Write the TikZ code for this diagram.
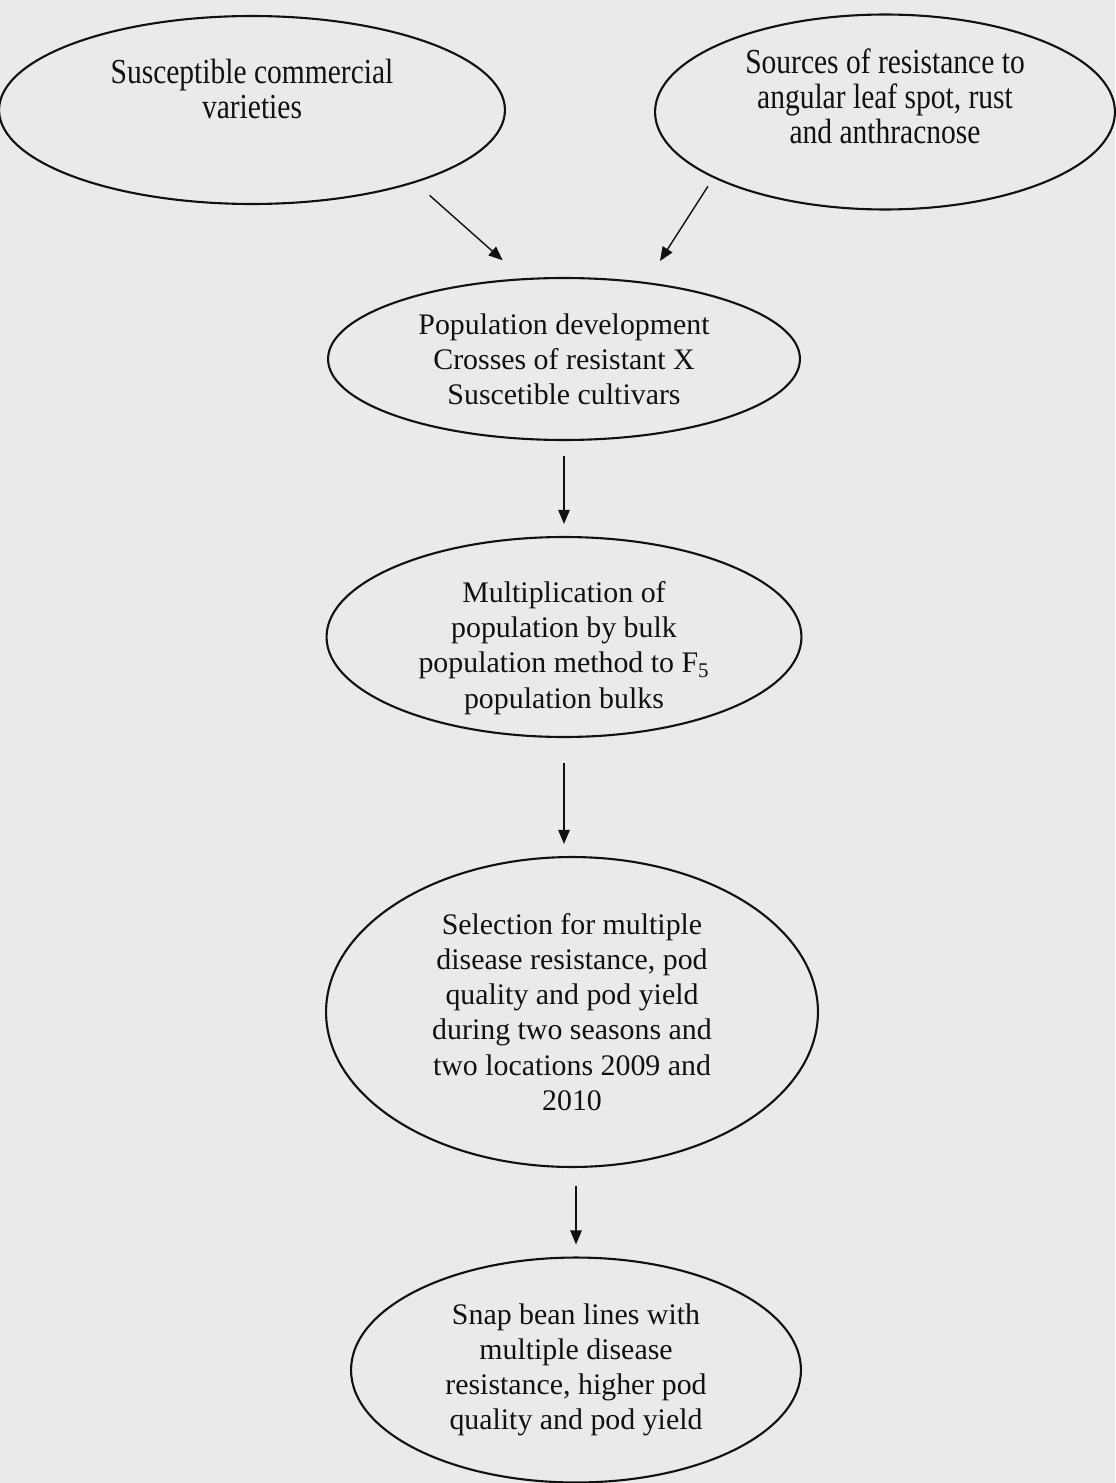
\documentclass[tikz,border=0pt]{standalone}
\usepackage{fontspec}
\setmainfont{Liberation Serif}
\newfontfamily\narrowserif{Liberation Serif}[FakeStretch=0.84]
\usetikzlibrary{arrows.meta, shapes.geometric, calc}
\definecolor{paper}{HTML}{EAEAEA}
\definecolor{ink}{HTML}{111111}

\begin{document}
\begin{tikzpicture}[x=0.02cm, y=-0.02cm,
    every node/.style={text=ink},
    blob/.style={ellipse, draw=ink, line width=1.2pt, inner sep=0pt, align=center,
                 font=\fontsize{17}{20}\selectfont},
    topblob/.style={blob, font=\narrowserif\fontsize{20}{20}\selectfont},
    words/.style={align=center, inner sep=0pt, font=\fontsize{17}{20}\selectfont},
    arr/.style={-{Triangle[length=8pt, width=6.5pt]}, line width=0.8pt, draw=ink},
]
\fill[paper] (0,0) rectangle (1115,1483);
\useasboundingbox (0,0) rectangle (1115,1483);

% the two parent groups
\node[topblob, minimum width=10.12cm, minimum height=3.76cm, text depth=24.5pt]
    (susc) at (252,110) {Susceptible commercial\\varieties};
\node[topblob, minimum width=9.2cm, minimum height=3.9cm, text depth=18pt]
    (srcs) at (885,112) {Sources of resistance to\\angular leaf spot, rust\\and anthracnose};

% breeding steps
\node[blob, minimum width=9.44cm, minimum height=3.24cm] (popdev) at (564,359)
    {Population development\\Crosses of resistant X\\Suscetible cultivars};
\node[blob, minimum width=9.5cm, minimum height=4.0cm] (multi) at (564,637) {};
\node[words] (multitext) at ($(multi.center)+(0,11)$)
    {Multiplication of\\population by bulk\\population method to F\textsubscript{5}\\population bulks};
\node[blob, minimum width=9.84cm, minimum height=6.2cm] (sel) at (572,1012)
    {Selection for multiple\\disease resistance, pod\\quality and pod yield\\during two seasons and\\two locations 2009 and\\2010};
\node[blob, minimum width=9.0cm, minimum height=4.5cm] (snap) at (576,1370)
    {Snap bean lines with\\multiple disease\\resistance, higher pod\\quality and pod yield};

\draw[arr, shorten <=0.38cm, shorten >=0.54cm] (susc.-24.6) -- (popdev.117);
\draw[arr, shorten <=0.2cm, shorten >=0.5cm] (srcs.-159.4) -- (popdev.43.4);
\draw[arr, shorten <=0.3cm, shorten >=0.24cm] (popdev.south) -- (multi.north);
\draw[arr, shorten <=0.5cm, shorten >=0.24cm] (multi.south) -- (multi.south |- sel.north);
\draw[arr, shorten <=0.36cm, shorten >=0.24cm] (snap.north |- sel.south) -- (snap.north);
\end{tikzpicture}
\end{document}
